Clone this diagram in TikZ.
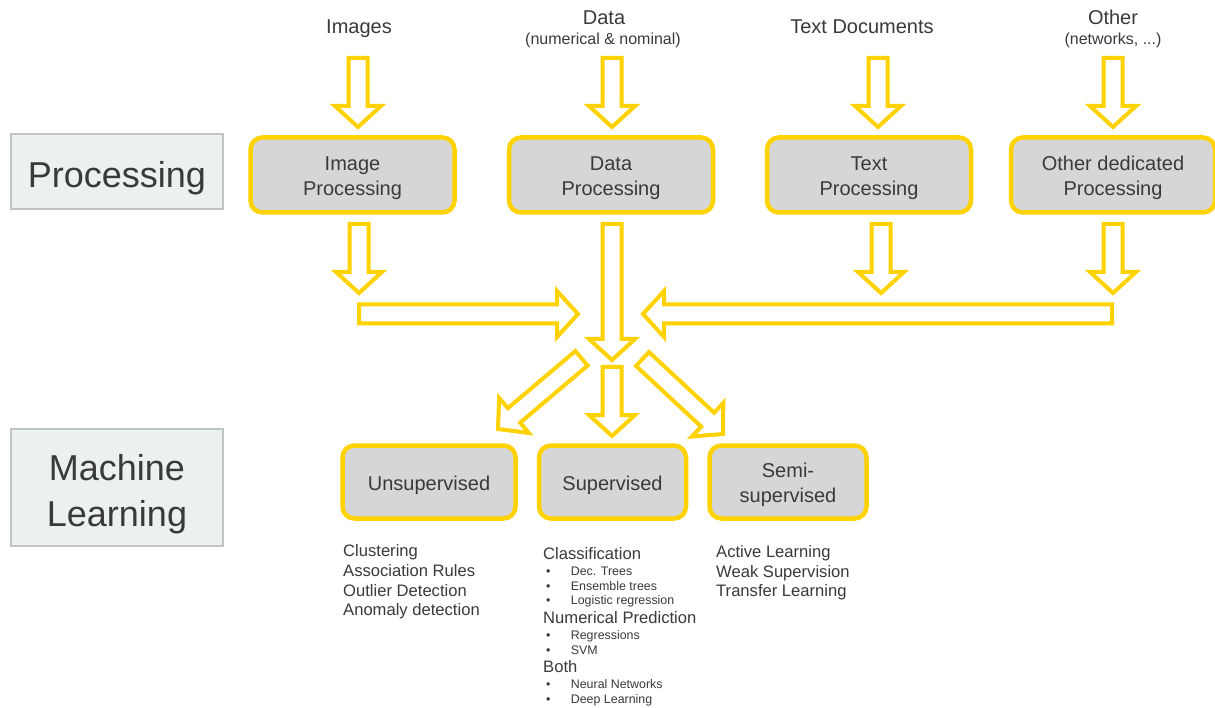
\documentclass[tikz,border=0pt]{standalone}
\usepackage{fontspec}
\setmainfont{Liberation Sans}
\usetikzlibrary{positioning,calc}

\definecolor{gold}{HTML}{FFD200}
\definecolor{boxgray}{HTML}{D6D6D6}
\definecolor{lblfill}{HTML}{EBF0F0}
\definecolor{lblline}{HTML}{BFC4C4}
\definecolor{ink}{HTML}{3A3A3A}

% hollow block arrow from #1 (tail) to #2 (tip)
\newcommand{\fatarrow}[2]{%
  \coordinate (fa) at ($(#2)!21pt!(#1)$);
  \draw[fat] ($(#1)!9.5pt!90:(#2)$) -- ($(fa)!9.5pt!90:(#2)$) -- ($(fa)!23pt!90:(#2)$) -- (#2)
    -- ($(fa)!23pt!-90:(#2)$) -- ($(fa)!9.5pt!-90:(#2)$) -- ($(#1)!9.5pt!-90:(#2)$) -- cycle;}
% taller first line, pushes box text down a bit
\newcommand{\lift}{\rule{0pt}{20.5pt}}

\begin{document}
\begin{tikzpicture}[x=1pt,y=-1pt,
  lbl/.style={draw=lblline,line width=2pt,fill=lblfill,text=ink,minimum width=212pt,font=\fontsize{36}{46}\selectfont,align=center},
  proc/.style={draw=gold,line width=4.5pt,fill=boxgray,rounded corners=12pt,text=ink,minimum height=75pt,inner sep=0pt,font=\fontsize{20}{25}\selectfont,align=center},
  src/.style={text=ink,anchor=base,inner sep=0pt,font=\fontsize{20}{24}\selectfont},
  note/.style={src,font=\fontsize{16}{19}\selectfont},
  fat/.style={draw=gold,line width=4pt,fill=white,line join=miter},
  item/.style={text=ink,anchor=base west,inner sep=0pt,font=\fontsize{16.6}{20}\selectfont},
  sub/.style={item,font=\fontsize{12.4}{15}\selectfont}]
  \useasboundingbox (0,0) rectangle (1215,708);
  \fill[white] (0,0) rectangle (1215,708);

  % level labels
  \node[lbl,minimum height=75pt] (proclbl) at (117,171.5) {\rule{0pt}{38.5pt}Processing};
  \node[lbl,minimum height=117pt] (mllbl) at (117,487) {\rule{0pt}{41pt}Machine\\Learning};

  % sources
  \node[src] (imgs) at (359,34) {Images};
  \node[src] (data) at (604,24.3) {Data};
  \node[note] (datanote) at (603,44.3) {(numerical \& nominal)};
  \node[src] (docs) at (862,34) {Text Documents};
  \node[src] (oth) at (1113,24.3) {Other};
  \node[note] (othnote) at (1113,44.3) {(networks, ...)};

  % processing
  \node[proc,minimum width=204pt] (imgp) at (352.5,175) {\lift Image\\Processing};
  \node[proc,minimum width=204pt] (datap) at (611,175) {\lift Data\\Processing};
  \node[proc,minimum width=204pt] (textp) at (869,175) {\lift Text\\Processing};
  \node[proc,minimum width=204pt] (othp) at (1113,175) {\lift Other dedicated\\Processing};

  % learning
  \node[proc,minimum width=173pt,minimum height=73pt] (unsup) at (429,482) {\lift Unsupervised};
  \node[proc,minimum width=147pt,minimum height=73pt] (sup) at (612.5,482) {\lift Supervised};
  \node[proc,minimum width=157pt,minimum height=73pt] (semi) at (788,482) {\lift Semi-\\supervised};

  % arrows in and out of processing
  \foreach \n/\xx in {imgin/358, datain/612, textin/878, othin/1113} {
    \coordinate (\n-s) at (\xx,58);
    \coordinate (\n-e) at (\xx,127);
    \fatarrow{\n-s}{\n-e}
  }
  \foreach \n/\xx in {imgout/359, textout/881, othout/1113} {
    \coordinate (\n-s) at (\xx,224);
    \coordinate (\n-e) at (\xx,293);
    \fatarrow{\n-s}{\n-e}
  }
  \coordinate (dataout-s) at (612,224);
  \coordinate (dataout-e) at (612,360);
  \fatarrow{dataout-s}{dataout-e}

  % merge
  \coordinate (left-s) at (359,314);
  \coordinate (left-e) at (578,314);
  \fatarrow{left-s}{left-e}
  \coordinate (right-s) at (1112,314);
  \coordinate (right-e) at (643,314);
  \fatarrow{right-s}{right-e}

  % split
  \coordinate (tounsup-s) at (581.5,358.3);
  \coordinate (tounsup-e) at (498,429);
  \fatarrow{tounsup-s}{tounsup-e}
  \coordinate (tosup-s) at (612,367);
  \coordinate (tosup-e) at (612,436);
  \fatarrow{tosup-s}{tosup-e}
  \coordinate (tosemi-s) at (642.5,359);
  \coordinate (tosemi-e) at (723,434);
  \fatarrow{tosemi-s}{tosemi-e}

  % method lists
  \foreach \t/\yy [count=\i] in {Clustering/556.5, Association Rules/576.3, Outlier Detection/596.1, Anomaly detection/615.9}
    \node[item] (u\i) at (343,\yy) {\t};
  \foreach \t/\yy [count=\i] in {Classification/559, Numerical Prediction/623, Both/672}
    \node[item] (s\i) at (543,\yy) {\t};
  \foreach \t/\yy [count=\i] in {Dec. Trees/575, Ensemble trees/590, Logistic regression/604, Regressions/639, SVM/654, Neural Networks/688, Deep Learning/703}
    \node[sub] (ss\i) at (546,\yy) {\makebox[24.7pt][l]{\textbullet}\t};
  \foreach \t/\yy [count=\i] in {Active Learning/557, Weak Supervision/577, Transfer Learning/596.5}
    \node[item] (m\i) at (716,\yy) {\t};
\end{tikzpicture}
\end{document}
